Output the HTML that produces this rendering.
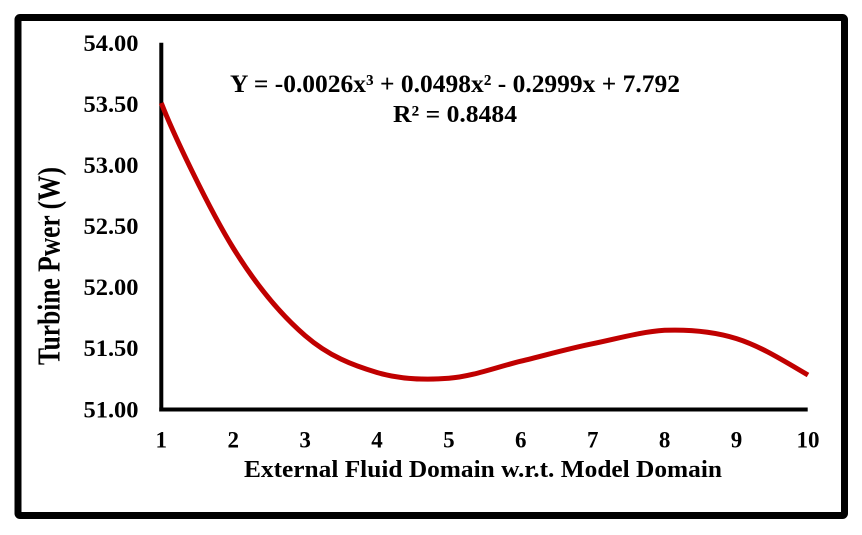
<!DOCTYPE html>
<html>
<head>
<meta charset="utf-8">
<style>
  html, body { margin:0; padding:0; background:#ffffff; }
  svg { display:block; }
  text { font-family: "Liberation Serif", "Times New Roman", serif; font-weight:bold; fill:#000; }
</style>
</head>
<body>
<svg width="862" height="535" viewBox="0 0 862 535" xmlns="http://www.w3.org/2000/svg">
  <rect x="0" y="0" width="862" height="535" fill="#ffffff"/>
  <!-- outer frame -->
  <rect x="18" y="17.5" width="826.5" height="498" fill="none" stroke="#000" stroke-width="7" rx="2"/>

  <!-- axes -->
  <line x1="161.3" y1="42.7" x2="161.3" y2="411.5" stroke="#000" stroke-width="4"/>
  <line x1="159.3" y1="409.5" x2="807.7" y2="409.5" stroke="#000" stroke-width="4"/>

  <!-- y tick labels -->
  <g font-size="23" text-anchor="end">
    <text x="138.5" y="50.8" textLength="55" lengthAdjust="spacingAndGlyphs">54.00</text>
    <text x="138.5" y="111.9" textLength="55" lengthAdjust="spacingAndGlyphs">53.50</text>
    <text x="138.5" y="173" textLength="55" lengthAdjust="spacingAndGlyphs">53.00</text>
    <text x="138.5" y="234.1" textLength="55" lengthAdjust="spacingAndGlyphs">52.50</text>
    <text x="138.5" y="295.2" textLength="55" lengthAdjust="spacingAndGlyphs">52.00</text>
    <text x="138.5" y="356.2" textLength="55" lengthAdjust="spacingAndGlyphs">51.50</text>
    <text x="138.5" y="417.3" textLength="55" lengthAdjust="spacingAndGlyphs">51.00</text>
  </g>

  <!-- x tick labels -->
  <g font-size="23" text-anchor="middle">
    <text x="161.3" y="447.5">1</text>
    <text x="233.2" y="447.5">2</text>
    <text x="305.1" y="447.5">3</text>
    <text x="377" y="447.5">4</text>
    <text x="448.9" y="447.5">5</text>
    <text x="520.8" y="447.5">6</text>
    <text x="592.7" y="447.5">7</text>
    <text x="664.6" y="447.5">8</text>
    <text x="736.5" y="447.5">9</text>
    <text x="808" y="447.5">10</text>
  </g>

  <!-- axis titles -->
  <text x="244" y="477" font-size="24" textLength="478" lengthAdjust="spacingAndGlyphs">External Fluid Domain w.r.t. Model Domain</text>
  <text transform="translate(59.5,266) rotate(-90) scale(1,1.25)" font-size="25" text-anchor="middle" textLength="198" lengthAdjust="spacingAndGlyphs">Turbine Pwer (W)</text>

  <!-- trendline equation -->
  <text x="230" y="92" font-size="25" textLength="450" lengthAdjust="spacingAndGlyphs">Y = -0.0026x³ + 0.0498x² - 0.2999x + 7.792</text>
  <text x="393" y="122" font-size="24" textLength="124" lengthAdjust="spacingAndGlyphs">R² = 0.8484</text>

  <!-- curve -->
  <path fill="none" stroke="#C00000" stroke-width="5" stroke-linecap="butt" stroke-linejoin="round"
    d="M161.3,103
       C173.3,134 209.2,209.2 233.2,248
       C257.2,286.8 281.1,314.85 305.1,335.6
       C329.1,356.35 353,365.4 377,372.5
       C401,379.6 424.9,380.2 448.9,378.3
       C472.9,376.4 496.8,367 520.8,361.2
       C544.8,355.4 568.7,348.55 592.7,343.7
       C616.7,338.85 640.6,331.8 664.6,330.3
       C688.6,329.45 712.6,331.15 736.5,338.6
       C760.4,346.05 784,361 808,375"/>
</svg>
</body>
</html>
